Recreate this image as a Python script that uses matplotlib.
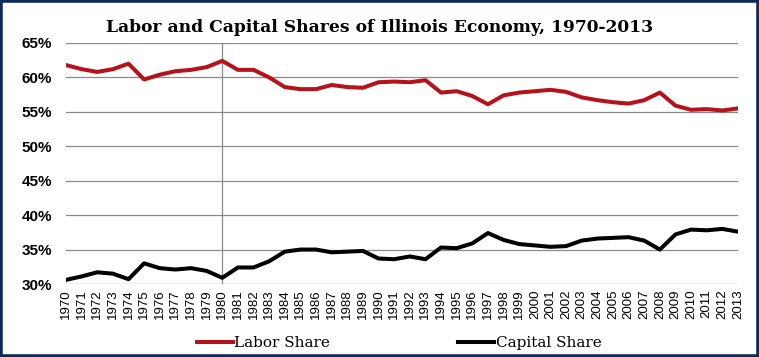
import matplotlib.pyplot as plt
from matplotlib.patches import Rectangle
from matplotlib.ticker import FuncFormatter

years = list(range(1970, 2014))
labor_share = [61.8, 61.2, 60.8, 61.2, 62.0, 59.7, 60.4, 60.9, 61.1, 61.5,
               62.4, 61.1, 61.1, 60.0, 58.6, 58.3, 58.3, 58.9, 58.6, 58.5,
               59.3, 59.4, 59.3, 59.6, 57.8, 58.0, 57.3, 56.1, 57.4, 57.8,
               58.0, 58.2, 57.9, 57.1, 56.7, 56.4, 56.2, 56.7, 57.8, 55.9,
               55.3, 55.4, 55.2, 55.5]
capital_share = [30.6, 31.1, 31.7, 31.5, 30.7, 33.0, 32.3, 32.1, 32.3, 31.9,
                 30.9, 32.4, 32.4, 33.3, 34.7, 35.0, 35.0, 34.6, 34.7, 34.8,
                 33.7, 33.6, 34.0, 33.6, 35.3, 35.2, 35.9, 37.4, 36.4, 35.8,
                 35.6, 35.4, 35.5, 36.3, 36.6, 36.7, 36.8, 36.3, 35.0, 37.2,
                 37.9, 37.8, 38.0, 37.6]

fig = plt.figure(figsize=(7.59, 3.57), dpi=100)
ax = fig.add_axes([66 / 759, 1 - 284 / 357, 672 / 759, 241 / 357])

x = list(range(len(years)))
ax.plot(x, labor_share, color='#b5121b', linewidth=2.9, label='Labor Share',
        solid_joinstyle='round', zorder=3)
ax.plot(x, capital_share, color='black', linewidth=2.9, label='Capital Share',
        solid_joinstyle='round', zorder=3)

ax.set_xlim(0, len(years) - 1)
ax.set_ylim(30, 65)
ax.set_yticks(range(30, 66, 5))
ax.yaxis.set_major_formatter(FuncFormatter(lambda v, p: '{:.0f}%'.format(v)))
ax.set_xticks(x)
ax.set_xticklabels([str(y) for y in years], rotation=90, fontsize=9.5,
                   family='Liberation Sans')
for lbl in ax.get_yticklabels():
    lbl.set_fontweight('bold')
    lbl.set_fontsize(11)
    lbl.set_family('Liberation Sans')
ax.tick_params(length=0, pad=4)
ax.tick_params(axis='y', pad=10)
ax.yaxis.grid(True, color='#8a8a8a', linewidth=0.9)
ax.axvline(10, color='#8a8a8a', linewidth=0.9, zorder=1)
ax.set_axisbelow(True)
for s in ax.spines.values():
    s.set_visible(False)

fig.text(0.5, 1 - 27 / 357, 'Labor and Capital Shares of Illinois Economy, 1970-2013',
         ha='center', va='center', fontsize=12.3, fontweight='bold', family='DejaVu Serif')

fig.legend(loc='center', bbox_to_anchor=(0.526, 1 - 343 / 357), ncol=2, frameon=False,
           prop={'family': 'DejaVu Serif', 'size': 11}, handlelength=2.35,
           handletextpad=0.1, columnspacing=8.4)

# dark blue frame around the picture
fig.patches.append(Rectangle((0, 0), 1, 1, transform=fig.transFigure, fill=False,
                             edgecolor='#0c2a5e', linewidth=4, zorder=10))

plt.savefig('out.png', dpi=100)
